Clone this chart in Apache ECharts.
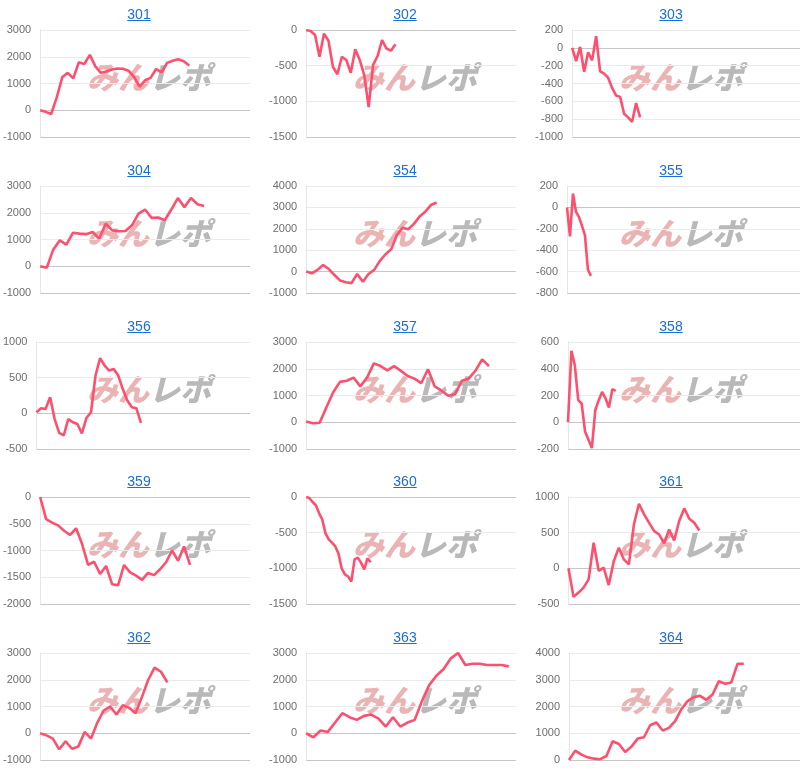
<!DOCTYPE html>
<html><head><meta charset="utf-8">
<script src="https://cdn.jsdelivr.net/npm/echarts@6/dist/echarts.min.js"></script>
<style>
body{margin:0;background:#fff;width:800px;height:779px;overflow:hidden;position:relative;font-family:"Liberation Sans",Arial,sans-serif}
.panel{position:absolute;height:156px}
.panel .c{position:absolute;left:0;top:0;width:100%;height:100%}
.panel a{position:absolute;top:6px;left:89px;width:100px;text-align:center;font-size:14px;line-height:17px;color:#1a6fd6;text-decoration:underline;z-index:2;font-family:"Liberation Sans",Arial,sans-serif}
</style></head><body>
<script>
// ---- data ----
const panelNames = ['301','302','303','304','354','355','356','357','358','359','360','361','362','363','364'];
const s301 = [0, -60, -140, 470, 1230, 1400, 1190, 1790, 1730, 2070, 1640, 1400, 1450, 1520, 1560, 1550, 1480, 1250, 880, 1120, 1210, 1540, 1420, 1770, 1850, 1910, 1830, 1670];
const s302 = [0, -15, -70, -375, -50, -150, -515, -620, -375, -420, -600, -270, -420, -630, -1080, -490, -365, -140, -260, -290, -200];
const s303 = [0, -150, 10, -270, -50, -140, 130, -265, -290, -335, -450, -535, -550, -740, -780, -830, -620, -780];
const s304 = [0, -60, 620, 970, 810, 1250, 1220, 1200, 1280, 1030, 1590, 1340, 1310, 1320, 1530, 1970, 2120, 1810, 1820, 1720, 2120, 2550, 2210, 2550, 2320, 2250];
const s354 = [0, -80, 80, 310, 120, -160, -420, -500, -540, -110, -470, -110, 80, 500, 810, 1040, 1710, 2050, 1980, 2230, 2570, 2800, 3110, 3230];
const s355 = [0, -270, 130, -40, -90, -170, -260, -580, -640];
const s356 = [15, 70, 60, 225, -80, -275, -310, -80, -125, -150, -280, -65, 15, 530, 775, 670, 600, 620, 530, 340, 180, 85, 70, -135];
const s357 = [25, -40, -20, 560, 1120, 1510, 1550, 1670, 1340, 1670, 2200, 2100, 1940, 2100, 1920, 1730, 1630, 1460, 1980, 1340, 1180, 990, 1050, 1550, 1630, 1920, 2350, 2100];
const s358 = [0, 535, 425, 165, 140, -70, -130, -193, 90, 165, 227, 178, 110, 247, 235];
const s359 = [0, -415, -480, -530, -630, -710, -585, -880, -1270, -1210, -1440, -1290, -1630, -1650, -1270, -1410, -1470, -1550, -1420, -1460, -1350, -1220, -1000, -1190, -925, -1270];
const s360 = [0, -15, -70, -115, -225, -315, -510, -595, -640, -690, -790, -1000, -1085, -1115, -1185, -875, -850, -920, -1015, -860, -915];
const s361 = [0, -400, -340, -270, -155, 360, -35, 10, -235, 100, 290, 125, 55, 615, 905, 760, 640, 525, 475, 350, 545, 390, 665, 840, 695, 640, 530];
const s362 = [0, -80, -200, -600, -300, -580, -500, 50, -200, 400, 850, 1000, 700, 1050, 950, 750, 1350, 2000, 2450, 2300, 1900];
const s363 = [0, -150, 100, 50, 400, 750, 600, 500, 650, 700, 550, 250, 600, 250, 400, 500, 1200, 1800, 2150, 2400, 2800, 3000, 2550, 2600, 2600, 2550, 2550, 2550, 2500];
const s364 = [0, 350, 200, 100, 50, 30, 150, 700, 600, 300, 500, 800, 850, 1300, 1400, 1100, 1200, 1450, 1900, 2200, 2350, 2400, 2250, 2450, 2950, 2850, 2900, 3600, 3600];
const seriesList = [s301, s302, s303, s304, s354, s355, s356, s357, s358, s359, s360, s361, s362, s363, s364];
// number of x slots (days) on each panel's category axis
const slotCounts = [39, 48, 58, 33, 38, 79, 48, 32, 69, 36, 66, 47, 34, 30, 38];
const yMins  = [-1000, -1500, -1000, -1000, -1000, -800, -500, -1000, -200, -2000, -1500, -500, -1000, -1000, 0];
const yMaxs  = [3000, 0, 200, 3000, 4000, 200, 1000, 3000, 600, 0, 0, 1000, 3000, 3000, 4000];
const ySteps = [1000, 500, 200, 1000, 1000, 200, 500, 1000, 200, 500, 500, 500, 1000, 1000, 1000];
const watermarkA = 'みん';
const watermarkB = 'レポ';

// ---- layout ----
const colLefts = [0, 266, 532];
const colWidths = [266, 266, 268];
const rowStep = 155.75;
const gridLefts = [37, 38, 39, 37, 38, 35, 34, 38, 36, 37, 38, 36, 37, 38, 37];
const gridRights = [16, 16, 0];
const FONT = '"Liberation Sans", Arial, sans-serif';

panelNames.forEach((name, i) => {
  const col = i % 3, row = Math.floor(i / 3);
  const panel = document.createElement('div');
  panel.className = 'panel';
  panel.style.left = colLefts[col] + 'px';
  panel.style.top = Math.round(row * rowStep) + 'px';
  panel.style.width = colWidths[col] + 'px';
  const chartDiv = document.createElement('div');
  chartDiv.className = 'c';
  panel.appendChild(chartDiv);
  const a = document.createElement('a');
  a.href = '#';
  a.textContent = name;
  panel.appendChild(a);
  document.body.appendChild(panel);

  const cats = [];
  for (let k = 0; k < slotCounts[i]; k++) cats.push(String(k + 1));
  const nTicks = Math.round((yMaxs[i] - yMins[i]) / ySteps[i]) + 1;
  const zeroIdx = Math.round((0 - yMins[i]) / ySteps[i]);
  const lineColors = [];
  for (let k = 0; k < nTicks; k++) lineColors.push((k === 0 || k === zeroIdx) ? '#c6c6c6' : '#ebebeb');

  const chart = echarts.init(chartDiv, null, { renderer: 'canvas' });
  chart.setOption({
    animation: false,
    grid: { left: gridLefts[i], right: gridRights[col], top: 30, height: 107 },
    xAxis: {
      type: 'category', data: cats, boundaryGap: false,
      axisLine: { show: false }, axisTick: { show: false }, axisLabel: { show: false }, splitLine: { show: false }
    },
    yAxis: {
      type: 'value', min: yMins[i], max: yMaxs[i], interval: ySteps[i],
      axisLine: { show: true, lineStyle: { color: '#e6e6e6', width: 1 } },
      axisTick: { show: false },
      axisLabel: { color: '#6e6e6e', fontSize: 11, fontFamily: FONT, margin: 9, formatter: v => String(v) },
      splitLine: { show: true, lineStyle: { color: lineColors, width: 1 } }
    },
    graphic: [{
      type: 'text', left: 87, top: 62, z: 0, silent: true,
      style: {
        text: '{a|' + watermarkA + '}{b|' + watermarkB + '}',
        rich: {
          a: { fill: '#ebb4b4', fontSize: 31, fontWeight: 900, fontStyle: 'italic', fontFamily: '"Noto Sans CJK JP"' },
          b: { fill: '#b9b9b9', fontSize: 31, fontWeight: 900, fontStyle: 'italic', fontFamily: '"Noto Sans CJK JP"' }
        }
      }
    }],
    series: [{
      type: 'line', data: seriesList[i], showSymbol: false, z: 5,
      lineStyle: { color: '#ff4f6e', width: 2.6 }, itemStyle: { color: '#ff4f6e' }
    }]
  });
});
</script>
</body></html>
